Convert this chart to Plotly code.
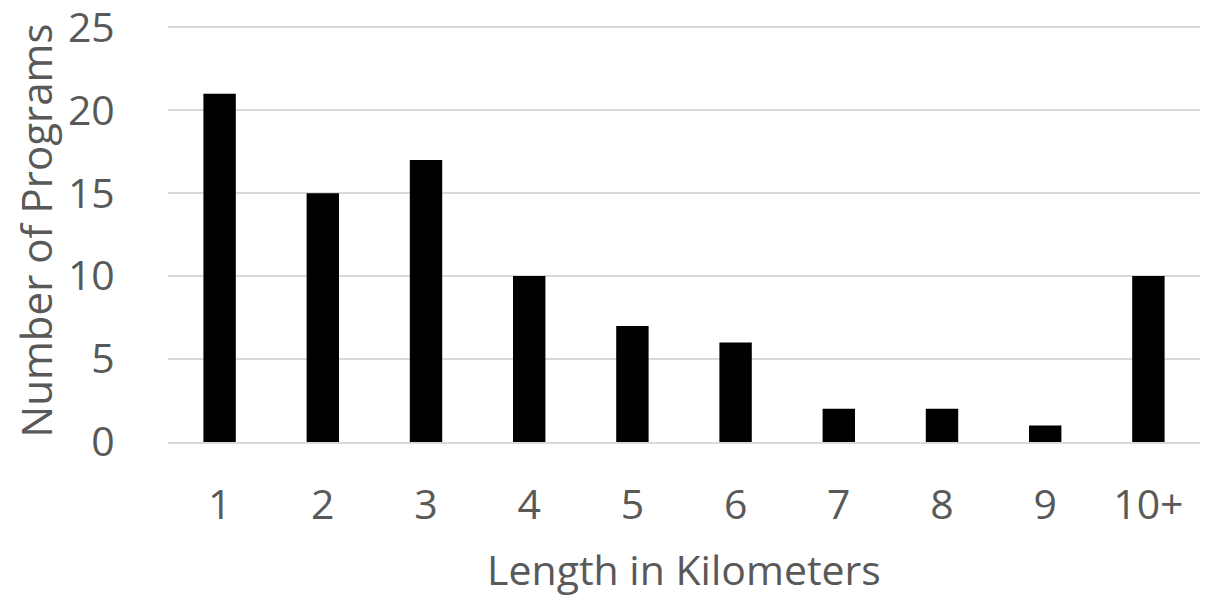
import plotly.graph_objects as go

categories = ["1", "2", "3", "4", "5", "6", "7", "8", "9", "10+"]
programs = [21, 15, 17, 10, 7, 6, 2, 2, 1, 10]
y_ticks = [0, 5, 10, 15, 20, 25]

font_family = "Open Sans"
text_color = "#595959"

fig = go.Figure(
    go.Bar(x=categories, y=programs, marker=dict(color="black", line=dict(width=0)))
)

fig.update_layout(
    width=1209,
    height=597,
    margin=dict(l=168, r=9, t=19, b=155),
    plot_bgcolor="white",
    paper_bgcolor="white",
    bargap=0.686,
    showlegend=False,
    font=dict(family=font_family, color=text_color),
)

fig.update_xaxes(
    type="category",
    automargin=False,
    showgrid=False,
    showline=True,
    linecolor="#d9d9d9",
    linewidth=2,
    ticks="outside",
    ticklen=26,
    tickcolor="rgba(0,0,0,0)",
    tickfont=dict(size=41, family=font_family, color=text_color),
    title=dict(text="Length in Kilometers", font=dict(size=41, family=font_family, color=text_color), standoff=26),
)

fig.update_yaxes(
    range=[0, 25.5],
    automargin=False,
    tickmode="array",
    tickvals=y_ticks,
    ticktext=[str(v) for v in y_ticks],
    ticklabeloverflow="allow",
    showgrid=True,
    gridcolor="#d9d9d9",
    gridwidth=1.5,
    zeroline=False,
    showline=False,
    ticks="outside",
    ticklen=44,
    tickcolor="rgba(0,0,0,0)",
    tickfont=dict(size=41, family=font_family, color=text_color),
    title=dict(text="Number of Programs", font=dict(size=42, family=font_family, color=text_color), standoff=2),
)

fig.write_html("out.html")
